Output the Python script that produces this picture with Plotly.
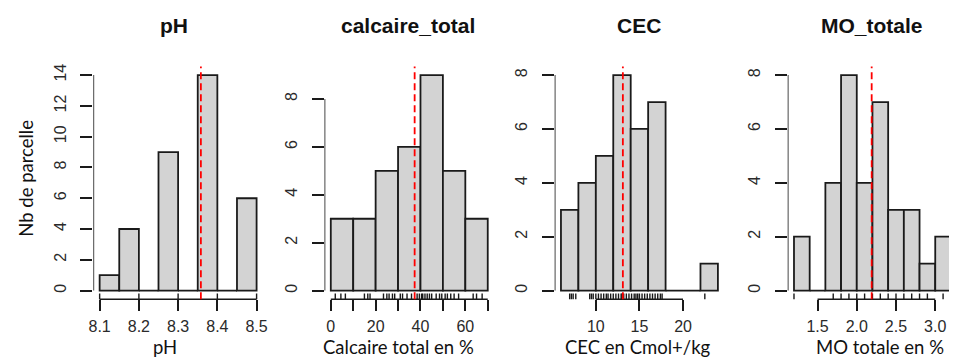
import plotly.graph_objects as go

# ---------------- data ----------------
ph_breaks = [8.10, 8.15, 8.20, 8.25, 8.30, 8.35, 8.40, 8.45, 8.50]
ph_counts = [1, 4, 0, 9, 0, 14, 0, 6]
ph_rug = [8.1, 8.2, 8.3, 8.4, 8.5]
ph_mean = 8.358
ph_xticks = [8.1, 8.2, 8.3, 8.4, 8.5]
ph_xlabels = ["8.1", "8.2", "8.3", "8.4", "8.5"]
ph_yticks = [0, 2, 4, 6, 8, 10, 12, 14]

calc_breaks = [0, 10, 20, 30, 40, 50, 60, 70]
calc_counts = [3, 3, 5, 6, 9, 5, 3]
calc_rug = [2, 4.5, 6.5, 15, 16.5, 17.5, 23.5, 25, 26, 27.5, 28.5,
            31, 32, 34, 36, 38.5, 39.5, 40.5, 41, 42, 43, 44, 45, 47, 48.5, 49.5,
            51, 52, 53.5, 55, 57, 63.5, 65, 67.5]
calc_mean = 37.4
calc_xticks = [0, 10, 20, 30, 40, 50, 60, 70]
calc_xlabels = ["0", "", "20", "", "40", "", "60", ""]
calc_yticks = [0, 2, 4, 6, 8]

cec_breaks = [6, 8, 10, 12, 14, 16, 18, 20, 22, 24]
cec_counts = [3, 4, 5, 8, 6, 7, 0, 0, 1]
cec_rug = [7.0, 7.2, 7.4, 7.7, 9.3, 9.5, 9.7, 10.0, 10.3, 10.6, 10.9, 11.2, 11.4,
           11.7, 12.0, 12.3, 12.6, 12.9, 13.0, 13.2, 13.5, 13.8, 14.1, 14.4, 14.6,
           14.8, 15.0, 15.3, 15.6, 15.9, 16.2, 16.5, 16.8, 17.1, 17.4, 17.6, 22.5]
cec_mean = 13.1
cec_xticks = [10, 15, 20]
cec_xlabels = ["10", "15", "20"]
cec_yticks = [0, 2, 4, 6, 8]

mo_breaks = [1.2, 1.4, 1.6, 1.8, 2.0, 2.2, 2.4, 2.6, 2.8, 3.0, 3.2]
mo_counts = [2, 0, 4, 8, 4, 7, 3, 3, 1, 2]
mo_rug = [1.2, 1.7, 1.8, 1.9, 2.0, 2.1, 2.2, 2.3, 2.4, 2.5, 2.6, 2.7, 2.8, 2.9, 3.1]
mo_mean = 2.19
mo_xticks = [1.5, 2.0, 2.5, 3.0]
mo_xlabels = ["1.5", "2.0", "2.5", "3.0"]
mo_yticks = [0, 2, 4, 6, 8]

titles = ["pH", "calcaire_total", "CEC", "MO_totale"]
xtitles = ["pH", "Calcaire total en %", "CEC en Cmol+/kg", "MO totale en %"]
ytitle = "Nb de parcelle"

# ---------------- layout geometry ----------------
W, H = 954, 359
plot_left_px = [89.3, 322.9, 555.5, 791.0]
plot_w_px = 171.3
plot_top_px, plot_bot_px = 64.0, 298.7
ydom = [(H - plot_bot_px) / H, (H - plot_top_px) / H]

title_x_px = [171, 407, 641, 876]
xtitle_x_px = [162, 398, 640, 884]

panels = [
    (ph_breaks, ph_counts, ph_rug, ph_mean, ph_xticks, ph_xlabels, ph_yticks),
    (calc_breaks, calc_counts, calc_rug, calc_mean, calc_xticks, calc_xlabels, calc_yticks),
    (cec_breaks, cec_counts, cec_rug, cec_mean, cec_xticks, cec_xlabels, cec_yticks),
    (mo_breaks, mo_counts, mo_rug, mo_mean, mo_xticks, mo_xlabels, mo_yticks),
]

TICK_FONT = dict(family="Liberation Sans, Arial", size=16, color="#2a2a2a")
LAB_FONT = dict(family="Lato, Carlito, Calibri, sans-serif", size=18.5, color="#111")
AX = "#1a1a1a"

fig = go.Figure()
shapes = []
annotations = []
layout_axes = {}

for i, (br, cn, rug, mean, xt, xl, yt) in enumerate(panels):
    k = "" if i == 0 else str(i + 1)
    xa, ya = "x" + k, "y" + k
    centers = [(br[j] + br[j + 1]) / 2 for j in range(len(cn))]
    widths = [br[j + 1] - br[j] for j in range(len(cn))]
    fig.add_trace(go.Bar(
        x=centers, y=cn, width=widths, xaxis=xa, yaxis=ya,
        marker=dict(color="#D3D3D3", line=dict(color=AX, width=1.8)),
        showlegend=False, hoverinfo="x+y"))

    # R-style axis ranges (4% padding)
    x0, x1 = br[0], br[-1]
    pad = 0.04 * (x1 - x0)
    xr = [x0 - pad, x1 + pad]
    left = plot_left_px[i]
    right = left + plot_w_px
    if right > W:  # last panel is cut by the picture edge
        frac = (W - left) / plot_w_px
        xr = [xr[0], xr[0] + (xr[1] - xr[0]) * frac]
        right = W
    ymax = max(cn)
    yr = [-0.04 * ymax, ymax * 1.04]

    layout_axes["xaxis" + k] = dict(
        domain=[left / W, right / W], range=xr, anchor=ya,
        tickmode="array", tickvals=xt, ticktext=xl,
        ticks="outside", ticklen=11, tickwidth=1.6, tickcolor=AX,
        showline=False, showgrid=False, zeroline=False,
        tickfont=TICK_FONT, ticklabelstandoff=2, fixedrange=True)
    layout_axes["yaxis" + k] = dict(
        domain=ydom, range=yr, anchor=xa,
        tickmode="array", tickvals=yt, ticktext=[str(v) for v in yt],
        ticks="outside", ticklen=12, tickwidth=1.6, tickcolor=AX, tickangle=-90,
        showline=False, showgrid=False, zeroline=False,
        tickfont=TICK_FONT, ticklabelstandoff=8, fixedrange=True)

    # axis lines spanning first..last tick (R style)
    shapes.append(dict(type="line", xref=xa, yref=ya, x0=xr[0], x1=xr[0],
                       y0=yt[0], y1=yt[-1], line=dict(color=AX, width=1.6)))
    shapes.append(dict(type="line", xref=xa, yref="paper", x0=xt[0], x1=xt[-1],
                       y0=ydom[0], y1=ydom[0], line=dict(color=AX, width=1.6)))
    # rug
    for v in rug:
        shapes.append(dict(type="line", xref=xa, yref=ya + " domain", x0=v, x1=v,
                           y0=0, y1=0.025, line=dict(color=AX, width=1.4)))
    # mean line
    shapes.append(dict(type="line", xref=xa, yref=ya + " domain", x0=mean, x1=mean,
                       y0=0, y1=1, line=dict(color="#FF0000", width=1.8, dash="7px,4px")))

    annotations.append(dict(text="<b>" + titles[i] + "</b>", xref="paper", yref="paper",
                            x=title_x_px[i] / W, y=1 - 23 / H, xanchor="center", yanchor="middle",
                            showarrow=False,
                            font=dict(family="Liberation Sans, Arial", size=21, color="#111")))
    annotations.append(dict(text=xtitles[i], xref="paper", yref="paper",
                            x=xtitle_x_px[i] / W, y=1 - 346.5 / H, xanchor="center", yanchor="middle",
                            showarrow=False, font=LAB_FONT, borderpad=0))

annotations.append(dict(text=ytitle, xref="paper", yref="paper", x=20.5 / W, y=1 - 177 / H,
                        xanchor="center", yanchor="middle", textangle=-90,
                        showarrow=False, font=LAB_FONT))

fig.update_layout(
    width=W, height=H, margin=dict(l=0, r=0, t=0, b=0),
    paper_bgcolor="white", plot_bgcolor="white",
    shapes=shapes, annotations=annotations, **layout_axes)

fig.write_html("out.html", config={"displayModeBar": False})
